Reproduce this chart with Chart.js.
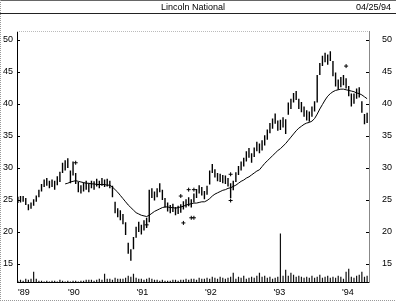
<!DOCTYPE html>
<html><head><meta charset="utf-8">
<style>html,body{margin:0;padding:0;background:#fff;overflow:hidden}#wrap{position:relative;width:396px;height:301px}</style>
<script src="https://cdn.jsdelivr.net/npm/chart.js@4/dist/chart.umd.min.js"></script>
</head><body><div id="wrap"><canvas id="c" width="396" height="301"></canvas></div>
<script>
const chartTitle = 'Lincoln National';
const headerDate = '04/25/94';
const firstBarDate = [1989, 2, 8];   // bi-weekly bars from 8 Mar 1989
const barStepDays = 14;

const lows = [
 24.5,24.6,24.7,24.2,23.4,23.6,24.1,24.7,25.4,26.3,
 27.0,27.2,26.8,27.0,26.6,27.3,27.8,29.2,29.6,30.0,
 27.6,28.8,27.5,26.2,26.0,26.3,26.6,26.2,26.8,26.6,
 27.1,26.8,27.2,27.0,27.1,26.8,25.4,22.9,22.3,21.8,
 21.2,19.5,16.6,15.5,17.3,19.1,20.0,19.6,20.2,20.6,
 21.5,25.3,24.9,25.4,26.2,25.0,23.8,23.2,22.9,23.1,
 22.6,22.8,23.0,23.5,23.8,24.0,23.8,24.6,25.3,26.0,
 25.7,25.1,25.8,27.4,29.2,28.5,27.9,27.8,27.6,27.5,
 27.1,25.3,26.5,27.8,28.9,29.6,30.2,31.0,31.6,30.8,
 31.7,32.6,32.3,32.7,33.5,34.4,35.4,36.1,36.9,35.8,
 35.9,36.3,35.3,38.3,39.2,40.2,40.6,39.2,38.7,38.0,
 37.4,37.2,38.0,38.8,40.2,44.5,45.9,46.5,46.1,46.7,
 44.3,42.7,42.2,42.6,42.9,42.4,41.2,39.6,40.0,40.8,
 41.0,38.6,36.8,37.0];
const highs = [
 25.5,25.6,25.6,25.3,24.3,24.6,25.1,25.7,26.6,27.5,
 28.2,28.4,28.0,28.2,28.0,28.7,29.4,30.8,31.2,31.5,
 29.6,31.0,29.2,27.8,27.3,27.7,28.0,27.6,28.0,27.9,
 28.3,28.0,28.4,28.2,28.3,28.0,27.2,24.7,23.7,23.4,
 22.8,21.5,18.3,17.3,19.2,20.8,21.6,21.1,21.8,22.2,
 26.6,26.8,26.3,26.8,27.6,26.6,25.3,24.6,24.2,24.4,
 23.9,24.1,24.3,24.8,25.1,25.4,25.1,26.0,26.7,27.3,
 27.0,26.4,27.2,29.6,30.6,29.8,29.2,29.1,28.9,28.8,
 28.4,27.6,28.0,29.3,30.3,31.0,31.6,32.6,33.1,32.3,
 33.2,34.1,33.8,34.3,35.1,36.0,37.0,37.7,38.5,37.4,
 37.5,37.9,37.6,40.2,40.8,41.7,42.0,40.8,40.3,39.6,
 39.0,38.8,39.6,40.4,44.5,46.4,47.5,48.0,47.7,48.2,
 46.7,44.9,43.8,44.2,44.5,44.0,42.8,41.6,41.6,42.4,
 42.6,40.4,38.4,38.6];
const movingAvg = [
 null,null,null,null,null,null,null,null,null,null,
 null,null,null,null,null,null,null,null,27.5,27.6,
 27.8,27.9,28.0,27.9,27.8,27.7,27.6,27.6,27.5,27.5,
 27.4,27.4,27.4,27.4,27.3,27.3,27.0,26.6,26.2,25.7,
 25.2,24.7,24.2,23.8,23.4,23.0,22.8,22.6,22.5,22.4,
 22.6,22.9,23.2,23.4,23.6,23.8,23.9,23.9,23.8,23.8,
 23.7,23.8,23.9,24.0,24.2,24.3,24.4,24.5,24.5,24.6,
 24.7,24.7,24.9,25.2,25.6,25.9,26.1,26.3,26.5,26.6,
 26.8,26.9,27.1,27.3,27.6,27.9,28.1,28.4,28.6,28.9,
 29.2,29.5,29.7,30.2,30.7,31.1,31.5,31.9,32.3,32.7,
 33.0,33.4,33.8,34.3,34.8,35.3,35.8,36.2,36.5,36.8,
 37.0,37.1,37.3,37.7,38.4,39.2,39.9,40.6,41.2,41.6,
 41.9,42.1,42.2,42.3,42.3,42.2,42.1,42.0,41.9,41.7,
 41.6,41.4,41.1,40.8];
const volume = [
 2,3,2,4,3,4,11,4,2,2,
 1,2,1,2,2,1,3,2,1,2,
 1,2,2,1,2,2,3,3,3,2,
 3,4,3,9,4,4,3,5,4,4,
 4,5,7,6,9,5,4,4,3,4,
 5,4,3,3,2,3,2,2,2,3,
 3,2,3,3,4,3,4,4,3,5,
 4,4,5,4,6,5,4,6,5,4,
 5,6,10,4,6,5,7,4,5,6,
 5,7,10,6,7,5,6,4,5,6,
 50,7,13,7,10,8,6,7,6,5,
 6,5,7,5,6,8,5,6,7,5,
 6,5,7,6,4,11,14,6,5,7,
 8,11,6,7];
const markBar = [22, 49, 62, 65, 67, 63, 66, 67, 81, 81, 125];
const markValue = [30.8, 21.1, 25.6, 26.6, 26.6, 21.4, 22.2, 22.2, 24.9, 29.0, 45.9];

const xTickValues = [1989.27, 1990, 1991, 1992, 1993, 1994];
const xTickLabels = ["'89", "'90", "'91", "'92", "'93", "'94"];
const yTickValues = [15, 20, 25, 30, 35, 40, 45, 50];

const dates = lows.map((_, i) => {
  const ms = Date.UTC(firstBarDate[0], firstBarDate[1], firstBarDate[2]) + i * barStepDays * 86400000;
  const y = new Date(ms).getUTCFullYear();
  const y0 = Date.UTC(y, 0, 1), y1 = Date.UTC(y + 1, 0, 1);
  return y + (ms - y0) / (y1 - y0);
});

const FONT = 'Liberation Sans';
const tickFont = {family: FONT, size: 9};

const framePlugin = {
  id: 'frame',
  beforeDraw(chart) {
    const {ctx, width, height} = chart;
    ctx.save(); ctx.fillStyle = '#fff'; ctx.fillRect(0, 0, width, height); ctx.restore();
  },
  afterDraw(chart) {
    const {ctx, chartArea: a, width, height, scales} = chart;
    const ln = (x1, y1, x2, y2) => { ctx.beginPath(); ctx.moveTo(x1, y1); ctx.lineTo(x2, y2); ctx.stroke(); };
    ctx.save();
    ctx.lineWidth = 1;
    ctx.strokeStyle = '#666'; ln(0, 0.5, width, 0.5);
    ctx.strokeStyle = '#222'; ln(0, 13.5, width, 13.5);
    ctx.setLineDash([1, 1]);
    ctx.strokeStyle = '#999'; ln(0.5, 0, 0.5, height); ln(0, height - 0.5, width, height - 0.5);
    ctx.strokeStyle = '#bbb'; ln(a.left, a.top + 0.5, a.right, a.top + 0.5);
    ctx.setLineDash([]);
    ctx.strokeStyle = '#000';
    yTickValues.forEach(v => {
      const py = Math.round(scales.y.getPixelForValue(v)) + 0.5;
      ln(a.left, py, a.left + 3, py);
      ln(a.right - 3, py, a.right, py);
    });
    ctx.fillStyle = '#000';
    ctx.font = '9px "' + FONT + '"';
    ctx.textAlign = 'right'; ctx.textBaseline = 'middle';
    ctx.fillText(headerDate, 391, 7.5);
    ctx.restore();
  }
};

const yCommon = {
  min: 12.08, max: 51.38,
  afterBuildTicks: s => { s.ticks = yTickValues.map(v => ({value: v})); },
  grid: {display: false, drawTicks: false},
};

new Chart(document.getElementById('c'), {
  type: 'bar',
  data: {
    datasets: [
      {type: 'line', label: 'Moving average', data: dates.map((t, i) => ({x: t, y: movingAvg[i]})),
       borderColor: '#000', borderWidth: 1, pointRadius: 0, fill: false, order: 0, yAxisID: 'y'},
      {type: 'scatter', label: 'Marks', data: markBar.map((k, j) => ({x: dates[k], y: markValue[j]})),
       pointStyle: 'cross', pointRadius: 2, borderColor: '#000', borderWidth: 1, order: 0, yAxisID: 'y'},
      {type: 'bar', label: 'High-Low', data: dates.map((t, i) => ({x: t, y: [lows[i], highs[i]]})),
       backgroundColor: '#000', barThickness: 1.4, inflateAmount: 0, grouped: false, order: 1, yAxisID: 'y'},
      {type: 'bar', label: 'Volume', data: dates.map((t, i) => ({x: t, y: volume[i]})),
       backgroundColor: '#111', barThickness: 1.2, inflateAmount: 0, grouped: false, order: 2, yAxisID: 'yv'}
    ]
  },
  options: {
    responsive: false, animation: false,
    layout: {padding: 0},
    plugins: {
      legend: {display: false}, tooltip: {enabled: false},
      title: {display: true, text: chartTitle, fullSize: false, color: '#000',
              font: {family: FONT, size: 9, weight: 'normal'}, padding: {top: 2, bottom: 18.2}}
    },
    scales: {
      x: {type: 'linear', min: 1989.168, max: 1994.307, offset: false,
          afterBuildTicks: s => { s.ticks = xTickValues.map(v => ({value: v})); },
          afterFit: s => { s.height = 14; },
          ticks: {callback: (v, i) => xTickLabels[i], font: tickFont, color: '#000', padding: 5, maxRotation: 0, autoSkip: false},
          grid: {display: false, drawTicks: false},
          border: {display: true, color: '#000', width: 1}},
      y: Object.assign({}, yCommon, {position: 'left',
          afterFit: s => { s.width = 17; },
          ticks: {font: tickFont, color: '#000', padding: 4},
          border: {display: true, color: '#000', width: 1}}),
      y2: Object.assign({}, yCommon, {position: 'right',
          afterFit: s => { s.width = 27; },
          ticks: {font: tickFont, color: '#000', padding: 13},
          border: {display: true, color: '#888', width: 1}}),
      yv: {display: false, min: 0, max: 256}
    }
  },
  plugins: [framePlugin]
});
</script></body></html>
